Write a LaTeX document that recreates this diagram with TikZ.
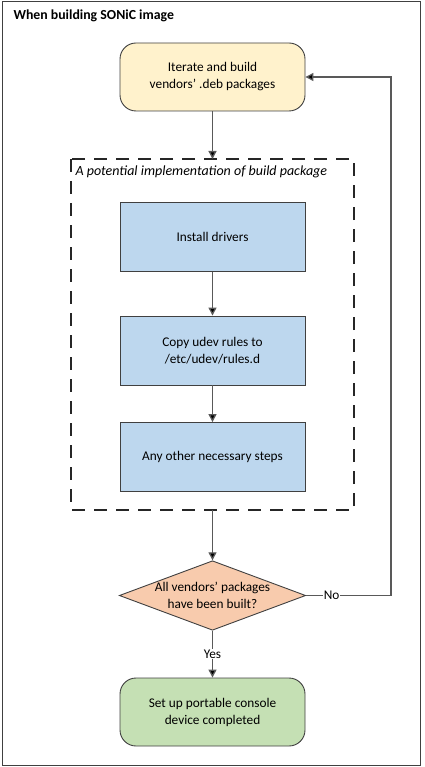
\documentclass[tikz,border=0pt]{standalone}
\usepackage{fontspec}
\setmainfont{Carlito}
\usetikzlibrary{shapes.geometric,arrows.meta}
\definecolor{termfill}{HTML}{FFF2CC}
\definecolor{stepfill}{HTML}{BDD7EE}
\definecolor{askfill}{HTML}{F8CBAD}
\definecolor{donefill}{HTML}{C5E0B4}
\definecolor{edge}{HTML}{404040}
\definecolor{wire}{HTML}{595959}
\tikzset{
 term/.style={draw=edge, line width=0.9pt, rounded corners=16pt, minimum width=185pt, minimum height=68pt, align=center, font=\fontsize{13.3}{17}\selectfont},
 stepbox/.style={draw=edge, line width=0.9pt, fill=stepfill, minimum width=185pt, minimum height=69pt, align=center, font=\fontsize{13.3}{17}\selectfont},
 ask/.style={draw=edge, line width=0.9pt, fill=askfill, diamond, aspect=2.68, minimum width=185pt, minimum height=69pt, inner sep=0pt, align=center, font=\fontsize{13.3}{17}\selectfont},
 wire/.style={draw=wire, line width=1.3pt, -{Triangle[length=8pt,width=8pt,fill=black]}},
 tag/.style={fill=white, inner sep=1pt, font=\fontsize{13.3}{14}\selectfont}
}
\begin{document}
\begin{tikzpicture}[x=1pt, y=-1pt]
 \useasboundingbox (0,0) rectangle (424,767);
 \draw[line width=1pt, draw=edge] (2,2) rectangle (420,765);
 \node[anchor=west, font=\fontsize{13.8}{14}\selectfont\bfseries] (title) at (10,16) {When building SONiC image};
 \node[term, fill=termfill] (iter) at (212.5,77) {Iterate and build\\vendors’ .deb packages};
 \draw[draw=black!85, line width=1.3pt, dash pattern=on 13pt off 9pt] (71,159) rectangle (354,510);
 \coordinate (ptop) at (212.5,159);
 \coordinate (pbot) at (212.5,510);
 \node[anchor=west, font=\fontsize{14}{14}\selectfont\itshape] (plabel) at (72,172) {A potential implementation of build package};
 \node[stepbox] (drv) at (212.5,237) {Install drivers};
 \node[stepbox] (udev) at (212.5,350.5) {Copy udev rules to\\/etc/udev/rules.d};
 \node[stepbox] (other) at (212.5,457) {Any other necessary steps};
 \node[ask] (built) at (212.5,595.5) {All vendors’ packages\\have been built?};
 \node[term, fill=donefill] (done) at (212.5,712) {Set up portable console\\device completed};
 \coordinate (back) at (391,595.5);
 \path[wire] (iter) -- (ptop);
 \path[wire] (drv) -- (udev);
 \path[wire] (udev) -- (other);
 \path[wire] (pbot) -- (built);
 \path[wire] (built) -- node[tag] {Yes} (done);
 \path[wire] (built.east) -- node[tag, pos=0.3] {No} (back) |- (iter.east);
\end{tikzpicture}
\end{document}
